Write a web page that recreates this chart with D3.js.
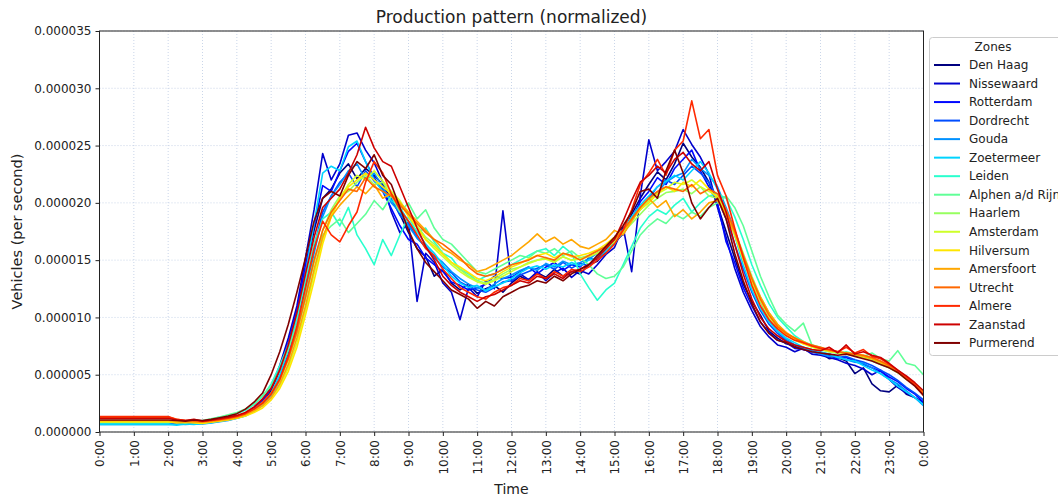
<!DOCTYPE html>
<html><head><meta charset="utf-8">
<script src="https://cdn.jsdelivr.net/npm/d3@7"></script>
<style>body{margin:0;background:#fff;} text{font-family:"DejaVu Sans",sans-serif;fill:#222;}</style>
</head><body><svg id="chart" width="1058" height="498"></svg>
<script>
// ---------------- data (values in 1e-6 vehicles per second) ----------------
const zones = ["Den Haag","Nissewaard","Rotterdam","Dordrecht","Gouda","Zoetermeer","Leiden","Alphen a/d Rijn","Haarlem","Amsterdam","Hilversum","Amersfoort","Utrecht","Almere","Zaanstad","Purmerend"];
const zoneColors = ["#000080","#0000cd","#0008ff","#004dff","#0091ff","#00d4ff","#29ffce","#60ff97","#97ff60","#ceff29","#ffe600","#ffa700","#ff6800","#ff2900","#cd0000","#800000"];
// constant level between 0:00 and 2:00
const flatLevels = [0.95,0.85,0.8,0.75,0.65,0.65,0.8,0.85,0.85,0.9,0.9,1.0,1.3,1.35,1.2,1.05];
const startHour = 2;      // sampled values start at 2:00
const stepMinutes = 15;   // one value every 15 minutes until 24:00
const valueUnit = 1e-6;

const denHaag = [0.95,0.9,0.8,0.85, 0.8,0.9,1.0,1.1, 1.3,1.5,1.9,2.5, 3.6,5.4,7.6,10.4, 14.0,17.6,20.4,21.2, 22.6,23.4,22.1,23.0, 22.4,21.6,20.3,19.0, 17.4,16.0,15.3,13.6, 14.2,13.0,12.4,12.9, 12.1,12.5,12.8,12.2, 13.0,13.6,13.2,13.9, 13.5,14.2,13.6,14.0, 13.8,14.6,14.9,15.8, 16.5,17.3,19.0,20.4, 21.6,22.7,22.0,23.4, 25.2,24.0,23.1,21.8, 19.8,17.5,15.2,12.9, 11.4,10.2,8.8,8.2, 7.7,7.5,7.2,7.0, 6.9,6.4,6.5,6.2, 5.1,5.6,4.2,3.6, 3.5,4.1,3.3,3.0, 2.6];
const nissewaard = [0.85,0.8,0.9,0.75, 0.85,0.9,1.1,1.15, 1.3,1.6,2.0,2.8, 3.9,5.8,8.2,11.0, 15.2,19.4,24.3,22.0, 23.4,25.9,26.1,24.6, 23.5,21.8,19.2,17.4, 18.3,11.4,15.6,14.8, 13.0,12.2,9.8,12.6, 11.8,13.2,12.5,19.3, 13.1,13.8,13.3,14.0, 13.2,13.9,14.3,13.5, 14.1,13.8,14.6,15.5, 16.1,17.9,14.0,20.6, 25.5,22.8,23.6,24.5, 26.4,25.1,24.0,22.5, 19.6,17.0,14.3,12.2, 10.6,9.2,8.3,7.6, 7.4,7.0,7.3,6.8, 6.7,6.5,6.3,6.0, 5.8,5.5,5.0,5.4, 4.6,3.9,3.4,3.0, 2.5];
const rotterdam = [0.8,0.85,0.8,0.9, 0.85,0.95,1.0,1.2, 1.35,1.6,2.1,2.7, 3.8,5.6,7.8,10.6, 14.6,18.0,21.5,21.0, 22.8,24.5,25.2,23.6, 22.2,21.0,19.5,18.0, 16.8,16.4,15.2,14.6, 14.0,13.1,12.8,12.4, 12.6,12.9,13.6,13.4, 13.5,14.0,14.4,13.8, 14.4,14.8,14.1,14.6, 14.4,15.2,15.0,16.2, 17.0,17.2,18.6,20.1, 21.0,22.2,21.6,23.0, 23.8,24.6,22.8,21.4, 20.0,16.6,14.8,12.6, 11.0,9.6,8.7,8.0, 7.8,7.3,7.2,7.0, 6.8,6.7,6.4,6.5, 6.2,5.9,5.6,5.3, 4.8,4.4,3.8,3.3, 2.6];
const dordrecht = [0.75,0.8,0.75,0.8, 0.8,0.85,1.0,1.1, 1.3,1.5,1.9,2.4, 3.3,4.8,6.8,9.4, 12.8,16.2,19.2,20.6, 21.8,22.6,21.4,22.8, 21.9,21.2,20.4,18.9, 18.2,17.0,16.1,15.2, 14.4,13.9,13.1,12.7, 12.4,12.2,12.6,13.1, 13.2,13.7,14.0,14.3, 14.6,14.2,14.8,14.3, 14.7,14.5,15.4,15.9, 16.6,17.6,18.4,19.6, 20.4,21.4,22.0,21.6, 22.4,23.2,22.6,21.8, 20.4,18.6,16.4,14.2, 12.2,10.6,9.4,8.6, 8.0,7.6,7.3,7.1, 6.9,6.8,6.5,6.6, 6.3,6.1,5.8,5.4, 5.0,4.5,3.9,3.4, 2.8];
const gouda = [0.65,0.7,0.65,0.7, 0.7,0.8,0.9,1.0, 1.2,1.4,1.8,2.3, 3.1,4.5,6.5,9.0, 12.2,15.6,18.8,20.6, 21.6,22.8,23.4,22.0, 22.6,21.4,20.0,19.2, 18.0,16.9,16.2,15.4, 14.8,14.0,13.4,12.9, 12.6,12.4,12.9,13.4, 13.7,14.1,14.4,14.1, 14.7,14.4,14.9,14.6, 14.8,15.1,15.6,16.0, 16.8,17.5,18.6,19.4, 20.2,20.9,21.8,22.3, 22.6,23.8,23.0,22.4, 21.4,19.6,17.6,15.2, 13.2,11.4,9.8,8.8, 8.1,7.6,7.4,7.0, 6.8,6.6,6.6,6.3, 6.1,6.0,5.6,5.1, 4.6,4.2,3.6,3.0, 2.3];
const zoetermeer = [0.65,0.6,0.7,0.65, 0.75,0.8,0.95,1.05, 1.2,1.45,1.85,2.4, 3.4,5.0,7.2,10.0, 13.8,18.2,22.6,23.2, 22.8,24.9,25.4,23.6, 22.0,21.0,20.2,19.6, 18.4,17.5,16.4,15.6, 14.6,13.6,13.0,12.6, 12.8,12.3,12.7,13.0, 13.4,13.9,14.3,14.5, 14.2,14.6,14.4,14.8, 14.5,15.0,15.2,15.8, 16.4,17.6,18.8,19.8, 20.6,21.4,21.9,22.4, 22.0,22.8,23.6,22.6, 21.2,19.4,17.2,14.6, 12.4,10.8,9.6,8.8, 8.2,7.8,7.4,7.2, 7.0,6.8,6.5,6.3, 6.2,5.8,5.4,5.1, 4.6,4.0,3.5,3.0, 2.4];
const leiden = [0.8,0.9,0.85,0.95, 0.9,1.1,1.3,1.4, 1.6,1.9,2.4,3.1, 4.2,5.8,7.6,10.0, 13.2,16.4,18.6,19.2, 18.0,19.6,17.2,16.0, 14.6,16.8,15.4,17.2, 18.8,17.4,17.8,16.6, 15.6,15.2,14.2,13.8, 13.2,13.6,13.8,14.2, 14.6,15.0,15.4,15.8, 16.0,15.4,16.2,15.6, 13.8,12.6,11.5,12.4, 13.0,14.6,16.2,17.8, 18.8,19.4,19.0,19.8, 20.4,19.2,20.0,20.6, 20.8,20.4,18.8,16.8, 14.6,12.8,11.2,10.0, 9.2,8.4,7.9,7.6, 7.2,7.0,6.9,6.8, 6.7,6.5,6.2,5.9, 5.6,5.2,4.8,4.2, 3.4];
const alphen = [0.85,0.9,0.95,0.85, 1.0,1.15,1.3,1.5, 1.7,2.0,2.5,3.2, 4.0,5.4,7.2,9.4, 12.2,15.0,17.2,18.0, 18.6,17.4,18.2,19.0, 20.2,19.4,20.6,19.2, 20.0,18.6,19.4,17.8, 16.8,16.4,15.6,14.8, 14.0,13.8,14.2,14.6, 15.0,15.4,15.2,15.8, 15.6,16.0,15.4,15.8, 15.2,14.6,13.8,13.4, 13.6,14.4,15.8,17.2, 18.0,18.6,18.2,19.0, 18.6,19.2,18.8,19.6, 20.0,20.6,19.6,18.0, 15.8,13.6,11.8,10.2, 9.4,8.8,9.5,7.6, 7.4,7.1,6.9,7.0, 6.8,6.6,6.9,6.4, 6.2,7.1,6.0,5.8, 5.0];
const haarlem = [0.85,0.85,0.8,0.9, 0.85,0.95,1.05,1.2, 1.35,1.6,1.95,2.5, 3.3,4.5,6.3,8.6, 11.6,14.8,17.6,19.4, 20.6,21.0,21.8,22.4, 21.6,21.8,20.6,20.0, 19.2,18.0,17.0,16.4, 15.6,14.8,14.2,13.6, 13.2,13.0,13.3,13.8, 14.2,14.4,14.8,15.0, 15.2,14.9,15.3,15.0, 15.2,15.4,15.8,16.2, 16.8,17.4,18.2,19.0, 19.8,20.4,20.9,21.0, 21.2,20.8,21.4,20.6, 20.4,19.2,17.6,15.6, 13.6,11.8,10.4,9.4, 8.6,8.2,7.8,7.5, 7.3,7.1,7.0,6.8, 6.7,6.6,6.3,6.0, 5.7,5.3,4.8,4.2, 3.5];
const amsterdam = [0.9,0.85,0.9,0.85, 0.8,0.9,1.0,1.1, 1.25,1.45,1.8,2.3, 3.0,4.0,5.6,7.8, 10.6,13.8,16.8,19.0, 20.4,21.6,22.4,22.0, 22.8,21.9,21.0,20.2, 19.0,17.9,16.8,16.0, 15.3,14.6,14.0,13.5, 13.1,12.9,13.2,13.6, 14.0,14.4,14.7,15.0, 15.1,14.8,15.3,15.0, 15.1,15.3,15.6,16.0, 16.6,17.4,18.4,19.4, 20.2,20.8,21.2,21.8, 21.6,22.0,21.4,21.0, 20.6,19.0,17.2,15.0, 13.0,11.4,10.0,9.2, 8.5,8.0,7.7,7.4, 7.2,7.0,6.9,6.8, 6.7,6.5,6.4,6.0, 5.6,5.2,4.6,4.1, 3.3];
const hilversum = [0.9,0.8,0.85,0.8, 0.75,0.85,0.95,1.05, 1.2,1.4,1.7,2.1, 2.8,3.8,5.3,7.4, 10.2,13.2,16.4,18.8, 20.4,21.4,22.0,22.6, 22.0,21.4,20.8,20.0, 18.8,17.8,16.8,16.2, 15.5,14.8,14.4,13.9, 13.4,13.2,13.5,14.0, 14.4,14.7,15.1,15.4, 15.6,15.2,15.6,15.3, 15.4,15.6,15.9,16.4, 17.0,17.6,18.6,19.4, 20.0,20.8,21.4,21.0, 21.8,21.4,22.0,21.2, 20.4,19.0,17.4,15.2, 13.2,11.6,10.2,9.2, 8.5,8.1,7.7,7.5, 7.3,7.1,7.0,6.9, 6.8,6.7,6.4,6.1, 5.7,5.2,4.7,4.1, 3.4];
const amersfoort = [1.0,0.9,0.85,0.9, 0.85,0.9,1.0,1.1, 1.25,1.5,1.85,2.3, 3.0,4.2,5.9,8.2, 11.0,14.2,17.0,18.8, 19.8,20.6,21.4,20.8, 21.6,20.4,20.8,20.0, 19.2,18.4,17.6,16.8, 16.0,15.6,15.0,14.6, 14.0,14.2,14.6,15.0, 15.4,16.0,16.6,17.3, 16.6,17.0,16.4,16.8, 16.2,16.0,16.4,16.8, 17.6,17.2,18.4,19.6, 20.4,19.6,20.2,18.8, 19.4,18.6,19.2,20.0, 20.2,19.0,17.4,15.4, 13.4,11.8,10.4,9.4, 8.7,8.2,7.9,7.5, 7.3,7.1,7.0,6.9, 6.8,6.6,6.4,6.1, 5.7,5.3,4.7,4.1, 3.4];
const utrecht = [1.3,1.1,1.0,0.95, 0.9,1.0,1.1,1.25, 1.4,1.65,2.0,2.6, 3.4,4.6,6.4,8.8, 11.8,15.0,17.6,19.2, 20.2,21.2,21.0,22.2, 21.4,21.0,20.6,19.8, 19.0,18.2,17.4,16.8, 16.4,15.8,15.2,14.4, 13.8,13.6,13.8,14.2, 14.6,14.8,15.0,15.4, 15.2,15.0,15.6,15.4, 15.0,15.4,15.8,16.2, 16.8,17.6,18.6,19.6, 20.4,21.0,21.4,21.2, 21.0,21.6,20.8,21.2, 20.8,19.4,17.6,15.4, 13.4,11.6,10.2,9.2, 8.6,8.2,7.8,7.6, 7.4,7.2,7.0,6.9, 6.8,6.7,6.5,6.2, 5.8,5.3,4.8,4.2, 3.4];
const almere = [1.35,1.1,1.0,1.05, 0.95,1.0,1.1,1.2, 1.35,1.6,2.0,2.5, 3.3,4.6,6.6,9.2, 12.6,16.0,18.4,17.2, 16.6,18.0,19.2,21.8, 23.6,22.6,20.8,19.4, 18.4,17.2,16.0,15.4, 14.2,13.4,12.6,12.2, 11.8,11.6,12.2,12.6, 12.8,13.4,13.2,13.8, 13.4,14.0,13.6,14.2, 14.0,14.4,15.0,15.6, 16.4,17.6,19.4,21.6, 22.6,23.8,22.4,24.6, 25.4,28.9,25.6,26.4, 22.4,20.6,17.8,15.2, 12.8,11.0,9.8,9.0, 8.4,8.0,7.8,7.5, 7.3,7.2,7.0,7.4, 6.9,7.2,6.6,6.4, 5.9,5.4,4.8,4.1, 3.2];
const zaanstad = [1.2,1.05,1.0,1.1, 0.95,1.05,1.15,1.3, 1.45,1.7,2.2,2.9, 3.8,5.4,7.6,10.4, 13.8,17.0,19.6,20.4, 21.2,22.6,24.2,26.6, 24.8,23.6,23.2,21.4, 19.6,17.8,16.2,15.0, 13.6,12.8,12.2,11.8, 11.4,11.8,12.0,12.4, 12.8,13.2,13.0,13.6, 13.4,13.8,13.4,14.0, 14.2,14.6,15.2,16.0, 16.8,18.4,20.2,21.8, 22.4,23.2,22.6,23.8, 24.4,23.4,22.8,23.6, 21.2,19.2,16.4,13.8, 11.6,10.0,9.0,8.4, 7.9,7.6,7.4,7.2, 7.1,7.4,6.9,7.6, 6.8,7.0,6.7,6.5, 6.0,5.4,4.9,4.3, 3.6];
const purmerend = [1.05,1.0,0.95,1.05, 1.0,1.1,1.25,1.4, 1.6,2.0,2.6,3.4, 5.0,7.0,9.4,12.2, 15.2,18.4,20.4,21.0, 20.6,22.4,23.6,23.0, 24.2,22.4,21.6,19.6, 17.6,16.0,14.8,14.0, 13.2,12.4,12.0,11.6, 10.8,11.4,11.0,11.8, 12.2,12.6,12.8,13.2, 13.0,13.6,13.2,13.8, 14.2,14.6,15.4,16.2, 17.0,18.0,19.2,21.0, 21.2,20.4,22.8,24.6, 22.6,20.0,18.6,19.6, 20.4,18.6,15.6,13.2, 11.2,9.6,8.6,8.0, 7.8,7.4,7.2,7.0, 6.9,6.8,6.7,6.8, 6.6,6.4,6.2,5.9, 5.6,5.2,4.6,4.0, 3.2];
const seriesValues = [denHaag,nissewaard,rotterdam,dordrecht,gouda,zoetermeer,leiden,alphen,haarlem,amsterdam,hilversum,amersfoort,utrecht,almere,zaanstad,purmerend];

const yTickValues = [0,5,10,15,20,25,30,35];
const xTickHours = [0,1,2,3,4,5,6,7,8,9,10,11,12,13,14,15,16,17,18,19,20,21,22,23,24];
const xTickLabels = ["0:00","1:00","2:00","3:00","4:00","5:00","6:00","7:00","8:00","9:00","10:00","11:00","12:00","13:00","14:00","15:00","16:00","17:00","18:00","19:00","20:00","21:00","22:00","23:00","0:00"];

// ---------------- layout ----------------
const svg = d3.select("#chart");
const m = {left:99.5, right:923.5, top:31, bottom:432};
const x = d3.scaleLinear().domain([0,24]).range([m.left, m.right]);
const y = d3.scaleLinear().domain([0,35*valueUnit]).range([m.bottom, m.top]);

// grid
const grid = svg.append("g").attr("stroke","#bccbe3").attr("stroke-width",0.8).attr("stroke-dasharray","1,2");
grid.selectAll("line.v").data(xTickHours).join("line")
  .attr("x1",d=>x(d)).attr("x2",d=>x(d)).attr("y1",m.top).attr("y2",m.bottom);
grid.selectAll("line.h").data(yTickValues).join("line")
  .attr("y1",d=>y(d*valueUnit)).attr("y2",d=>y(d*valueUnit)).attr("x1",m.left).attr("x2",m.right);

// lines
const line = d3.line().x(d=>x(d[0])).y(d=>y(d[1]*valueUnit));
const gLines = svg.append("g");
seriesValues.forEach((vals,i)=>{
  const pts = [[0, flatLevels[i]]].concat(vals.map((v,k)=>[startHour + k*stepMinutes/60, v]));
  gLines.append("path").datum(pts).attr("d",line)
    .attr("fill","none").attr("stroke",zoneColors[i]).attr("stroke-width",1.6).attr("stroke-linejoin","round");
});

// axes
const yAxis = d3.axisLeft(y).tickValues(yTickValues.map(v=>v*valueUnit)).tickSize(4).tickPadding(4)
  .tickFormat(d=>d3.format(".6f")(d));
const gy = svg.append("g").attr("transform",`translate(${m.left},0)`).call(yAxis);
gy.select(".domain").remove();
gy.selectAll("text").attr("font-size",12).attr("font-family","DejaVu Sans").attr("fill","#222");
gy.selectAll("line").attr("stroke","#222");

const xAxis = d3.axisBottom(x).tickValues(xTickHours).tickSize(4).tickFormat((d,i)=>xTickLabels[i]);
const gx = svg.append("g").attr("transform",`translate(0,${m.bottom})`).call(xAxis);
gx.select(".domain").remove();
gx.selectAll("line").attr("stroke","#222");
gx.selectAll("text").attr("font-size",12).attr("font-family","DejaVu Sans").attr("fill","#222")
  .attr("transform","rotate(-90)").attr("text-anchor","end").attr("dy","0.35em").attr("x",-8).attr("y",0);

// frame
svg.append("rect").attr("x",m.left).attr("y",m.top).attr("width",m.right-m.left).attr("height",m.bottom-m.top)
  .attr("fill","none").attr("stroke","#222").attr("stroke-width",1);

// titles
svg.append("text").attr("x",(m.left+m.right)/2).attr("y",23).attr("text-anchor","middle").attr("font-size",17).text("Production pattern (normalized)");
svg.append("text").attr("x",(m.left+m.right)/2).attr("y",494).attr("text-anchor","middle").attr("font-size",14).text("Time");
svg.append("text").attr("transform",`translate(22,${(m.top+m.bottom)/2}) rotate(-90)`).attr("text-anchor","middle").attr("font-size",14.5).text("Vehicles (per second)");

// legend (extends past the right edge, as in the original figure)
const lg = svg.append("g");
lg.append("rect").attr("x",929.5).attr("y",37.5).attr("width",140).attr("height",318).attr("rx",3)
  .attr("fill","#fff").attr("fill-opacity",0.85).attr("stroke","#cccccc");
lg.append("text").attr("x",993).attr("y",51).attr("text-anchor","middle").attr("font-size",12).text("Zones");
zones.forEach((z,i)=>{
  const yy = 65 + i*18.53;
  lg.append("line").attr("x1",934).attr("x2",960).attr("y1",yy).attr("y2",yy).attr("stroke",zoneColors[i]).attr("stroke-width",2);
  lg.append("text").attr("x",969).attr("y",yy).attr("dy","0.35em").attr("font-size",12).text(z);
});
</script></body></html>
